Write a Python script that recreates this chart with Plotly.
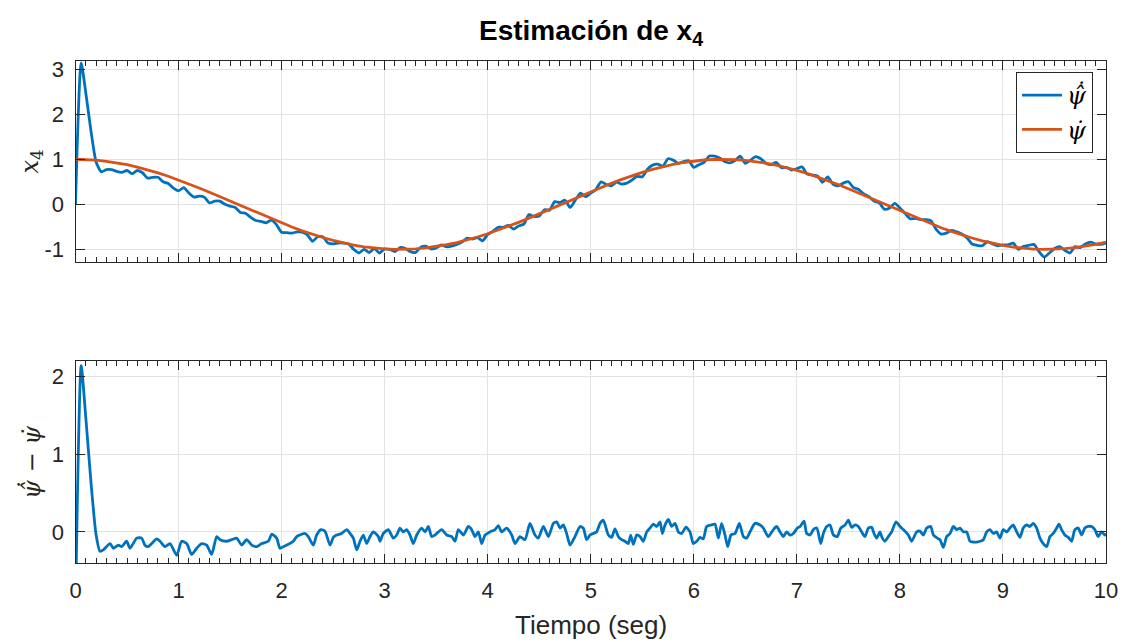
import numpy as np
import plotly.graph_objects as go

# ---------------- data ----------------
# reference signal psi_dot, sampled every 0.1 s from 0 to 10
t_ref = np.round(np.linspace(0, 10, 101), 2)
psi_dot = [
    1.000, 0.995, 0.980, 0.955, 0.921, 0.878, 0.825, 0.765, 0.697, 0.622,
    0.540, 0.454, 0.362, 0.268, 0.170, 0.071, -0.029, -0.129, -0.227, -0.323,
    -0.416, -0.505, -0.589, -0.666, -0.737, -0.801, -0.857, -0.904, -0.942, -0.971,
    -0.990, -0.999, -0.998, -0.988, -0.967, -0.937, -0.897, -0.848, -0.791, -0.726,
    -0.654, -0.575, -0.490, -0.401, -0.307, -0.211, -0.112, -0.012, 0.088, 0.187,
    0.284, 0.378, 0.469, 0.554, 0.635, 0.709, 0.776, 0.835, 0.886, 0.928,
    0.960, 0.983, 0.997, 1.000, 0.993, 0.977, 0.950, 0.914, 0.869, 0.816,
    0.754, 0.685, 0.608, 0.527, 0.439, 0.347, 0.251, 0.153, 0.054, -0.046,
    -0.146, -0.244, -0.339, -0.431, -0.519, -0.602, -0.679, -0.748, -0.811, -0.867,
    -0.911, -0.949, -0.975, -0.993, -1.000, -0.997, -0.985, -0.963, -0.930, -0.890,
    -0.839,
]

# estimate psi_dot_hat: start-up transient, then every 0.05 s from 0.25 to 10
t_est_start = [0.0, 0.055, 0.1, 0.15, 0.2]
est_start = [0.0, 3.14, 2.47, 1.63, 0.94]
t_est_grid = np.round(np.linspace(0.25, 10, 196), 2)
est_grid = [
    0.72, 0.77, 0.77, 0.73, 0.71, 0.75, 0.68, 0.75, 0.70, 0.58,
    0.60, 0.60, 0.50, 0.46, 0.36, 0.30, 0.37, 0.25, 0.16, 0.18,
    0.16, 0.03, 0.07, 0.07, 0.00, -0.04, -0.07, -0.18, -0.20, -0.29,
    -0.36, -0.38, -0.41, -0.35, -0.45, -0.62, -0.63, -0.64, -0.61, -0.62,
    -0.68, -0.82, -0.72, -0.72, -0.86, -0.88, -0.86, -0.86, -0.88, -1.00,
    -1.08, -1.00, -1.07, -0.98, -1.08, -0.99, -1.00, -1.05, -0.96, -0.98,
    -1.05, -1.07, -0.95, -0.93, -0.99, -0.97, -0.90, -0.94, -0.93, -0.89,
    -0.84, -0.75, -0.77, -0.74, -0.81, -0.67, -0.60, -0.51, -0.51, -0.47,
    -0.55, -0.48, -0.44, -0.23, -0.27, -0.26, -0.12, -0.13, 0.06, 0.04,
    0.09, -0.07, 0.09, 0.25, 0.17, 0.25, 0.33, 0.50, 0.44, 0.41,
    0.49, 0.45, 0.47, 0.54, 0.62, 0.61, 0.78, 0.87, 0.89, 0.85,
    1.01, 0.98, 0.91, 0.95, 0.97, 0.82, 0.88, 0.93, 1.07, 1.07,
    1.03, 0.95, 0.92, 0.97, 1.07, 0.91, 0.98, 1.06, 1.01, 0.91,
    0.88, 0.93, 0.81, 0.82, 0.76, 0.79, 0.83, 0.67, 0.65, 0.63,
    0.49, 0.61, 0.45, 0.41, 0.47, 0.50, 0.37, 0.33, 0.23, 0.17,
    0.07, 0.03, -0.11, -0.08, 0.02, -0.08, -0.20, -0.32, -0.31, -0.34,
    -0.34, -0.36, -0.55, -0.66, -0.64, -0.58, -0.61, -0.66, -0.74, -0.88,
    -0.91, -0.92, -0.83, -0.88, -0.92, -0.90, -0.90, -0.86, -1.00, -0.93,
    -0.91, -0.89, -1.05, -1.17, -1.08, -0.98, -0.94, -1.02, -1.08, -0.94,
    -0.96, -0.88, -0.84, -0.88, -0.89, -0.86,
]
t_est = list(t_est_start) + list(t_est_grid)
psi_dot_hat = est_start + est_grid

# estimation error psi_dot_hat - psi_dot
t_err = [
    0.0, 0.055, 0.1, 0.15, 0.2, 0.238, 0.27, 0.335, 0.367, 0.416, 0.448, 0.496, 0.529,
    0.594, 0.642, 0.674, 0.707, 0.739, 0.788, 0.82, 0.868, 0.917, 0.982, 1.03, 1.079,
    1.127, 1.176, 1.224, 1.273, 1.321, 1.37, 1.402, 1.467, 1.515, 1.564, 1.612, 1.661,
    1.71, 1.758, 1.807, 1.871, 1.904, 1.952, 1.984, 2.017, 2.065, 2.114, 2.146, 2.195,
    2.227, 2.259, 2.308, 2.34, 2.382, 2.421, 2.47, 2.502, 2.534, 2.583, 2.632, 2.664,
    2.696, 2.729, 2.761, 2.793, 2.826, 2.858, 2.89, 2.939, 2.955, 2.987, 3.036, 3.084,
    3.117, 3.149, 3.181, 3.213, 3.246, 3.278, 3.311, 3.359, 3.392, 3.424, 3.456, 3.489,
    3.553, 3.602, 3.651, 3.683, 3.715, 3.764, 3.812, 3.844, 3.877, 3.909, 3.942, 3.974,
    4.022, 4.071, 4.103, 4.136, 4.184, 4.233, 4.265, 4.313, 4.362, 4.41, 4.459, 4.491,
    4.54, 4.589, 4.637, 4.67, 4.702, 4.734, 4.766, 4.799, 4.847, 4.896, 4.928, 4.96,
    4.993, 5.025, 5.057, 5.09, 5.122, 5.171, 5.203, 5.235, 5.268, 5.3, 5.332, 5.365,
    5.388, 5.413, 5.446, 5.478, 5.51, 5.543, 5.575, 5.607, 5.64, 5.672, 5.695, 5.721,
    5.753, 5.785, 5.818, 5.85, 5.882, 5.924, 5.963, 5.995, 6.028, 6.06, 6.092, 6.125,
    6.173, 6.206, 6.238, 6.27, 6.303, 6.329, 6.361, 6.4, 6.442, 6.481, 6.513, 6.545,
    6.594, 6.643, 6.675, 6.723, 6.772, 6.804, 6.837, 6.869, 6.901, 6.934, 6.966, 7.005,
    7.031, 7.07, 7.095, 7.128, 7.16, 7.193, 7.232, 7.257, 7.29, 7.322, 7.354, 7.393,
    7.426, 7.468, 7.5, 7.532, 7.564, 7.597, 7.629, 7.661, 7.694, 7.726, 7.749, 7.774,
    7.807, 7.823, 7.855, 7.888, 7.92, 7.962, 8.001, 8.033, 8.082, 8.114, 8.163, 8.195,
    8.228, 8.26, 8.299, 8.325, 8.363, 8.389, 8.422, 8.454, 8.486, 8.519, 8.551, 8.583,
    8.616, 8.648, 8.68, 8.713, 8.745, 8.777, 8.81, 8.842, 8.874, 8.906, 8.939, 8.971,
    9.003, 9.036, 9.068, 9.1, 9.133, 9.165, 9.197, 9.23, 9.262, 9.294, 9.327, 9.359,
    9.391, 9.424, 9.456, 9.488, 9.521, 9.543, 9.569, 9.601, 9.634, 9.666, 9.698, 9.731,
    9.763, 9.795, 9.827, 9.86, 9.892, 9.924, 9.957, 9.989, 10.0,
]
err = [
    -1.0, 2.14, 1.47, 0.64, -0.04, -0.25, -0.23, -0.15, -0.21, -0.17, -0.19, -0.12, -0.21,
    -0.08, -0.08, -0.17, -0.19, -0.15, -0.09, -0.12, -0.19, -0.15, -0.30, -0.12, -0.15,
    -0.29, -0.21, -0.15, -0.17, -0.29, -0.06, -0.10, -0.12, -0.10, -0.08, -0.17, -0.10,
    -0.17, -0.19, -0.15, -0.12, -0.03, -0.08, -0.21, -0.19, -0.16, -0.12, -0.06, -0.03,
    -0.02, -0.06, -0.17, -0.04, 0.03, 0.01, -0.17, -0.07, -0.04, -0.02, 0.03, -0.02,
    -0.08, -0.23, -0.12, -0.04, -0.15, -0.06, 0.00, -0.06, -0.12, -0.02, 0.03, -0.08,
    -0.04, 0.05, 0.00, 0.03, -0.04, -0.15, -0.04, 0.05, 0.00, 0.07, -0.06, -0.04,
    0.03, -0.04, -0.06, -0.12, 0.03, -0.04, 0.07, 0.03, -0.06, 0.00, -0.15, -0.04,
    0.00, 0.03, 0.08, 0.00, 0.05, -0.04, -0.15, -0.06, -0.10, 0.11, -0.04, -0.08,
    0.07, -0.06, 0.11, 0.13, 0.05, 0.09, -0.02, -0.17, -0.06, 0.07, 0.05, -0.10,
    -0.04, -0.02, 0.00, 0.11, 0.15, -0.04, -0.07, 0.04, -0.06, -0.10, -0.12, -0.15,
    -0.04, -0.16, -0.04, -0.06, -0.12, 0.00, 0.05, 0.10, 0.07, 0.13, -0.02, 0.09,
    0.16, 0.07, 0.11, 0.00, -0.02, 0.06, 0.00, -0.15, -0.12, -0.07, -0.09, 0.07,
    0.09, 0.10, -0.08, 0.11, -0.04, -0.19, -0.04, -0.02, 0.11, -0.06, -0.08, 0.00,
    0.11, 0.09, 0.05, -0.06, 0.03, 0.07, 0.00, -0.06, 0.00, -0.04, -0.02, 0.05,
    0.07, 0.14, -0.02, -0.04, 0.03, 0.05, -0.15, -0.02, 0.07, 0.09, -0.04, -0.06,
    0.05, 0.09, 0.15, 0.06, 0.09, 0.07, 0.00, -0.06, 0.05, 0.06, -0.02, -0.08,
    0.00, -0.06, -0.12, -0.06, 0.00, 0.13, 0.07, 0.03, -0.04, -0.12, 0.00, 0.01,
    -0.04, 0.05, 0.07, -0.04, -0.08, -0.10, -0.20, -0.06, -0.02, 0.07, 0.03, 0.05,
    0.00, 0.00, -0.12, -0.13, -0.13, -0.12, -0.10, 0.00, 0.03, -0.02, 0.00, -0.08,
    0.03, 0.00, 0.05, 0.09, 0.00, -0.07, 0.05, 0.09, 0.07, 0.11, 0.05, -0.08,
    -0.15, -0.19, -0.06, -0.02, 0.05, 0.10, 0.03, -0.04, -0.07, -0.12, 0.03, 0.05,
    -0.04, 0.05, 0.07, 0.07, 0.03, -0.06, 0.00, -0.04, -0.02,
]

top_ticks = [-1, 0, 1, 2, 3]
top_ticktext = ["-1", "0", "1", "2", "3"]
bot_ticks = [0, 1, 2]
x_ticks = list(range(0, 11))

# ---------------- styling ----------------
W, H = 1134, 642
BLUE = "#0072BD"
ORANGE = "#D95319"
AX = "#262626"
GRID = "#e3e3e3"
SANS = "Liberation Sans, Arial, Helvetica, sans-serif"
SERIF = "DejaVu Serif, Liberation Serif, serif"

x_dom = [75.5 / W, 1106 / W]
top_dom = [(H - 262) / H, (H - 61) / H]
bot_dom = [(H - 563) / H, (H - 361) / H]

PSI_HAT_DOT = "ψ\u0302\u0307"
PSI_DOT = "ψ\u0307"
LW = 2.8

fig = go.Figure()
fig.add_trace(go.Scatter(x=t_est, y=psi_dot_hat, mode="lines", name=f"<i>{PSI_HAT_DOT}</i>",
                         line=dict(color=BLUE, width=LW, shape="spline", smoothing=0.6),
                         xaxis="x", yaxis="y"))
fig.add_trace(go.Scatter(x=t_ref, y=psi_dot, mode="lines", name=f"<i>{PSI_DOT}</i>",
                         line=dict(color=ORANGE, width=LW), xaxis="x", yaxis="y"))
fig.add_trace(go.Scatter(x=t_err, y=err, mode="lines", showlegend=False,
                         line=dict(color=BLUE, width=LW, shape="spline", smoothing=0.6),
                         xaxis="x2", yaxis="y2"))

common_x = dict(range=[0, 10], tickvals=x_ticks, ticks="inside", ticklen=9, tickwidth=1,
                tickcolor=AX, showline=True, linecolor=AX, linewidth=1, mirror="allticks",
                showgrid=True, gridcolor=GRID, gridwidth=1, zeroline=False, domain=x_dom,
                automargin=False,
                minor=dict(ticks="inside", ticklen=5, tickwidth=1, tickcolor=AX, dtick=0.1,
                           tick0=0, showgrid=False),
                tickfont=dict(family=SANS, size=22, color=AX))
common_y = dict(ticks="inside", ticklen=9, tickwidth=1, tickcolor=AX, showline=True,
                linecolor=AX, linewidth=1, mirror="ticks", showgrid=True, gridcolor=GRID,
                gridwidth=1, zeroline=False, automargin=False,
                tickfont=dict(family=SANS, size=22, color=AX), ticklabelstandoff=6)

fig.update_layout(
    width=W, height=H, margin=dict(l=0, r=0, t=0, b=0, pad=0, autoexpand=False),
    paper_bgcolor="white", plot_bgcolor="white",
    xaxis=dict(common_x, anchor="y", showticklabels=False),
    yaxis=dict(common_y, anchor="x", domain=top_dom, range=[-1.28, 3.18],
               tickvals=top_ticks, ticktext=top_ticktext),
    xaxis2=dict(common_x, anchor="y2", showticklabels=True, ticklabelstandoff=8),
    yaxis2=dict(common_y, anchor="x2", domain=bot_dom, range=[-0.40, 2.2],
                tickvals=bot_ticks),
    showlegend=True,
    legend=dict(x=1093 / W, xanchor="right", y=1 - 72 / H, yanchor="top",
                bgcolor="white", bordercolor=AX, borderwidth=1,
                font=dict(family=SERIF, size=24, color="black"),
                itemwidth=40, tracegroupgap=0),
    annotations=[
        dict(text="<b>Estimación de x<sub>4</sub></b>", x=591 / W, y=1 - 32 / H,
             xref="paper", yref="paper", xanchor="center", yanchor="middle",
             showarrow=False, font=dict(family=SANS, size=28, color="black")),
        dict(text="Tiempo (seg)", x=590.75 / W, y=1 - 625 / H, xref="paper", yref="paper",
             xanchor="center", yanchor="middle", showarrow=False,
             font=dict(family=SANS, size=26, color=AX)),
        dict(text="<i>x</i><sub>4</sub>", x=31 / W, y=1 - 161.5 / H, xref="paper",
             yref="paper", xanchor="center", yanchor="middle", textangle=-90,
             showarrow=False, font=dict(family=SERIF, size=24, color=AX)),
        dict(text=f"<i>{PSI_HAT_DOT} − {PSI_DOT}</i>", x=31 / W, y=1 - 462 / H, xref="paper",
             yref="paper", xanchor="center", yanchor="middle", textangle=-90,
             showarrow=False, font=dict(family=SERIF, size=24, color=AX)),
    ],
)

fig.write_html("out.html")
